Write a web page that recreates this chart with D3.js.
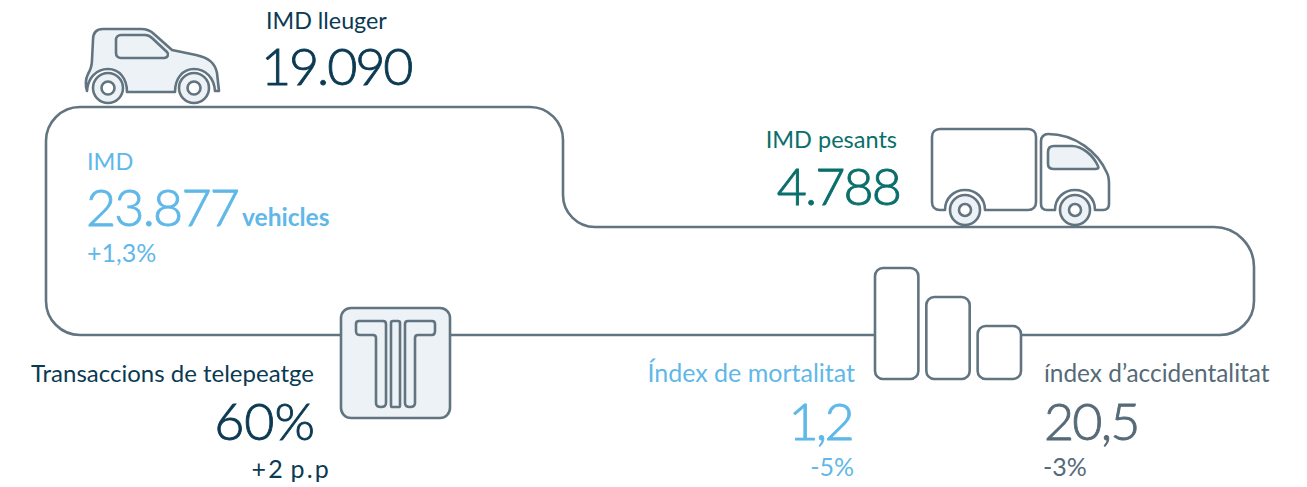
<!DOCTYPE html>
<html>
<head>
<meta charset="utf-8">
<script src="https://cdn.jsdelivr.net/npm/d3@7"></script>
<style>
html, body { margin: 0; padding: 0; background: #fff; }
text { font-family: Lato, "Noto Sans", sans-serif; }
</style>
</head>
<body>
<div id="chartdiv"></div>
<script>
var kpiLabels = ['IMD lleuger', 'IMD', 'IMD pesants', 'Transaccions de telepeatge', 'Índex de mortalitat', 'índex d’accidentalitat'];
var kpiValues = ['19.090', '23.877', '4.788', '60%', '1,2', '20,5'];
var kpiDeltas = ['', '+1,3%', '', '+2 p.p', '-5%', '-3%'];
var kpiUnits = ['', 'vehicles', '', '', '', ''];
var barLevels = [3, 2, 1];

var width = 1307, height = 487;
var lineColor = '#61747f', iconFill = '#edf2f6';

// where each block of text sits: x of label, value, delta, baselines, anchor, colour, label size, value spacing
var layout = [
 {lx: 266, vx: 261, dx: 0, ly: 29, vy: 85, dy: 0, a: 'start', c: '#0b3a53', ls: 23.3, sp: -2.1},
 {lx: 87, vx: 86, dx: 87, ly: 170, vy: 226, dy: 262, a: 'start', c: '#5fb8e8', ls: 23.5, sp: -1.8},
 {lx: 897, vx: 900, dx: 0, ly: 148, vy: 205, dy: 0, a: 'end', c: '#0a6f6b', ls: 23.5, sp: -1.9},
 {lx: 314, vx: 315, dx: 331, ly: 382, vy: 440, dy: 478, a: 'end', c: '#0b3a53', ls: 24, sp: 0},
 {lx: 855, vx: 852, dx: 854, ly: 382, vy: 440, dy: 476, a: 'end', c: '#5fb8e8', ls: 25, sp: -2.7},
 {lx: 1044, vx: 1044, dx: 1043, ly: 382, vy: 440, dy: 476, a: 'start', c: '#566a78', ls: 24.4, sp: -1.8}
];

var svg = d3.select('#chartdiv')
 .append('svg')
 .attr('width', width)
 .attr('height', height)
 .style('display', 'block');

// road, open where the bars stand
var road = d3.path();
road.moveTo(874, 335);
road.lineTo(80, 335);
road.arcTo(46, 335, 46, 301, 34);
road.lineTo(46, 141);
road.arcTo(46, 107, 80, 107, 34);
road.lineTo(530, 107);
road.arcTo(563, 107, 563, 140, 33);
road.lineTo(563, 195);
road.arcTo(563, 227, 595, 227, 32);
road.lineTo(1214, 227);
road.arcTo(1254, 227, 1254, 267, 40);
road.lineTo(1254, 301);
road.arcTo(1254, 335, 1220, 335, 34);
road.lineTo(1022, 335);

svg.append('path')
 .attr('class', 'road')
 .attr('d', road.toString())
 .attr('fill', 'none')
 .attr('stroke', lineColor)
 .attr('stroke-width', 2.6);

function outline(g, d, fill) {
 g.append('path')
  .attr('d', d)
  .attr('fill', fill)
  .attr('stroke', lineColor)
  .attr('stroke-width', 2.6)
  .attr('stroke-linejoin', 'round');
}
function wheel(g, cx, cy, r1, r2) {
 [r1, r2].forEach(function (r) {
  g.append('circle')
   .attr('cx', cx).attr('cy', cy).attr('r', r)
   .attr('fill', r == r1 ? iconFill : '#fff')
   .attr('stroke', lineColor)
   .attr('stroke-width', 2.6);
 });
}

// car
var car = svg.append('g').attr('class', 'car');
outline(car, 'M87 91 C85 84 86 78 88 74 C91 69 92 66 92 60 L93 40 C93 33 96 29 103 29 L141 29 C147 29 150 30 154 34 L172 50 L196 55 C209 58 215 63 217 73 L219 91 L215 91 C214 78 206 69 194 69 C183 69 175 78 175 92 L127 92 C127 78 119 69 108 69 C96 69 88 78 87 91 Z', iconFill);
outline(car, 'M121 35 L145 35 C148 35 150 36 152 38 L167 52 C169 54 168 58 164 58 L121 58 C118 58 116 56 116 53 L116 40 C116 37 118 35 121 35 Z', iconFill);
wheel(car, 108, 88, 15, 6.5);
wheel(car, 194, 88, 15, 6.5);

// truck
var truck = svg.append('g').attr('class', 'truck');
outline(truck, 'M940 129 L1028 129 C1033 129 1036 132 1036 137 L1036 202 C1036 207 1033 210 1028 210 L985 210 C985 198 976 190 965 190 C954 190 945 198 945 210 L940 210 C935 210 932 207 932 202 L932 137 C932 132 935 129 940 129 Z', '#fff');
outline(truck, 'M1048 134 C1075 134 1098 152 1107 173 C1109 177 1109 180 1109 184 L1109 204 C1109 208 1107 210 1103 210 L1095 210 C1095 198 1086 190 1075 190 C1064 190 1055 198 1055 210 L1047 210 C1043 210 1041 208 1041 204 L1041 141 C1041 137 1044 134 1048 134 Z', '#fff');
outline(truck, 'M1054 146 L1072 146 C1082 146 1093 155 1098 166 C1099 168 1098 169 1095 169 L1054 169 C1050 169 1048 167 1048 164 L1048 152 C1048 148 1050 146 1054 146 Z', iconFill);
wheel(truck, 965, 210, 15, 6);
wheel(truck, 1075, 210, 15, 6);

// toll sign
var toll = svg.append('g').attr('class', 'toll');
toll.append('rect')
 .attr('x', 341).attr('y', 308).attr('width', 109).attr('height', 110).attr('rx', 10)
 .attr('fill', iconFill).attr('stroke', lineColor).attr('stroke-width', 2.6);
outline(toll, 'M359 321 L383 321 C385 321 386 322 386 324 L386 403 C386 406 384 407 381 407 C378 407 376 406 376 403 L376 338 C376 336 375 335 373 335 L360 335 C357 335 356 334 356 331 L356 324 C356 322 357 321 359 321 Z', 'none');
outline(toll, 'M393 321 L398 321 C400 321 400 322 400 323 L400 405 C400 407 400 407 398 407 L393 407 C391 407 391 407 391 405 L391 323 C391 322 391 321 393 321 Z', 'none');
outline(toll, 'M432 321 L408 321 C406 321 405 322 405 324 L405 403 C405 406 407 407 410 407 C413 407 415 406 415 403 L415 338 C415 336 416 335 418 335 L432 335 C434 335 435 334 435 331 L435 324 C435 322 434 321 432 321 Z', 'none');

// the three bars of the index icon
var xBar = d3.scaleBand().domain(barLevels).range([875, 1021]).paddingInner(0.155);
var yBar = d3.scaleLinear().domain([0, 3]).range([355, 268]);
svg.append('g').attr('class', 'bars')
 .selectAll('rect')
 .data(barLevels)
 .join('rect')
 .attr('x', function (d) { return xBar(d); })
 .attr('y', function (d) { return yBar(d); })
 .attr('width', xBar.bandwidth())
 .attr('height', function (d) { return 379 - yBar(d); })
 .attr('rx', 8)
 .attr('fill', '#fff')
 .attr('stroke', lineColor)
 .attr('stroke-width', 2.6);

// text blocks
layout.forEach(function (p, i) {
 svg.append('text')
  .attr('x', p.lx).attr('y', p.ly)
  .attr('text-anchor', p.a)
  .attr('fill', p.c)
  .attr('font-size', p.ls)
  .text(kpiLabels[i]);
 svg.append('text')
  .attr('x', p.vx).attr('y', p.vy)
  .attr('text-anchor', p.a)
  .attr('fill', p.c)
  .attr('stroke', p.c)
  .attr('stroke-width', 0.9)
  .attr('font-size', 52)
  .attr('font-weight', 300)
  .style('letter-spacing', p.sp + 'px')
  .text(kpiValues[i]);
 if (kpiDeltas[i]) {
  svg.append('text')
   .attr('x', p.dx).attr('y', p.dy)
   .attr('text-anchor', p.a)
   .attr('fill', p.c)
   .attr('font-size', 25)
   .style('letter-spacing', i == 3 ? '2.2px' : '0')
   .style('word-spacing', i == 3 ? '-3px' : '0')
   .text(kpiDeltas[i]);
 }
 if (kpiUnits[i]) {
  svg.append('text')
   .attr('x', 242).attr('y', p.vy)
   .attr('fill', p.c)
   .attr('font-size', 24.5)
   .attr('font-weight', 700)
   .text(kpiUnits[i]);
 }
});
</script>
</body>
</html>
